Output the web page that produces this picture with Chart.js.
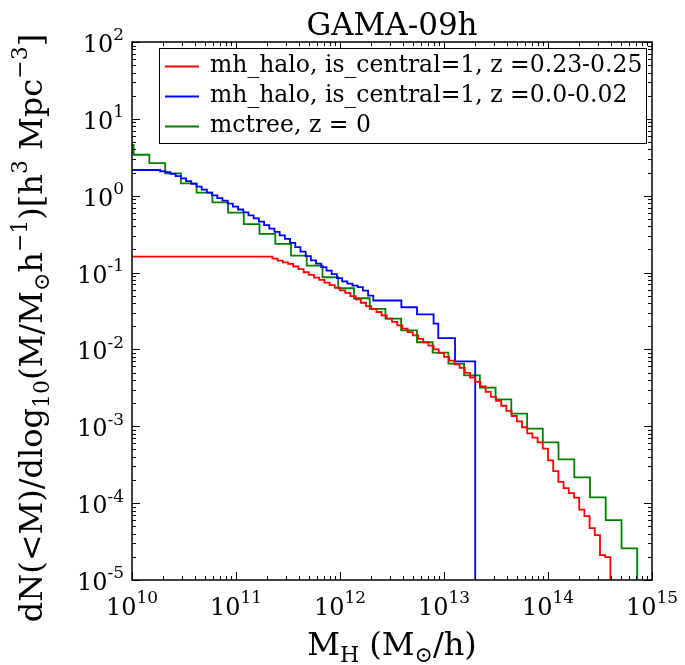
<!DOCTYPE html>
<html>
<head>
<meta charset="utf-8">
<script src="https://cdn.jsdelivr.net/npm/chart.js@4/dist/chart.umd.min.js"></script>
<style>
  html, body { margin: 0; padding: 0; background: #fff; }
</style>
</head>
<body>
<canvas id="mf-chart" width="685" height="665"></canvas>
<script>
const X_MIN = 1e10, X_MAX = 1e15;
const Y_MIN = 1e-5, Y_MAX = 1e2;
const FLOOR = 1e-7; // below the axis, so each curve drops off the bottom

const titleText = 'GAMA-09h';
const seriesLabels = [
    'mh_halo, is_central=1, z =0.23-0.25',
    'mh_halo, is_central=1, z =0.0-0.02',
    'mctree, z = 0'
];
const seriesColors = ['#ff0000', '#0000ff', '#008000'];

const xTickExp = [10, 11, 12, 13, 14, 15];
const yTickExp = [-5, -4, -3, -2, -1, 0, 1, 2];

// bin edges in log10(M), values per bin (one fewer than edges)
const redLogM = [9.9,
    11.35, 11.40, 11.45, 11.50, 11.55, 11.60, 11.65, 11.70, 11.75, 11.80,
    11.85, 11.90, 11.95, 12.00, 12.05, 12.10, 12.15, 12.20, 12.25, 12.30,
    12.35, 12.40, 12.45, 12.50, 12.55, 12.60, 12.65, 12.70, 12.75, 12.80,
    12.85, 12.90, 12.95, 13.00, 13.05, 13.10, 13.15, 13.20, 13.25, 13.30,
    13.35, 13.40, 13.45, 13.50, 13.55, 13.60, 13.65, 13.70, 13.75, 13.80,
    13.85, 13.90, 13.95, 14.00, 14.05, 14.10, 14.15, 14.20, 14.25, 14.30,
    14.35, 14.40, 14.45, 14.50, 14.55, 14.60];
const redVal = [0.161,
    0.152, 0.143, 0.136, 0.130, 0.120, 0.111, 0.101, 0.0933, 0.0861, 0.0802,
    0.0741, 0.0686, 0.0635, 0.0587, 0.0543, 0.0495, 0.0449, 0.0405, 0.0366, 0.0335,
    0.0307, 0.0278, 0.0251, 0.0228, 0.0206, 0.0186, 0.0168, 0.0152, 0.0137, 0.0124,
    0.0112, 0.0100, 0.00897, 0.00800, 0.00713, 0.00638, 0.00575, 0.00495, 0.00431, 0.00378,
    0.00330, 0.00281, 0.00242, 0.00214, 0.00185, 0.00159, 0.00136, 0.00116, 0.000971, 0.000811,
    0.000710, 0.000619, 0.000511, 0.000361, 0.000261, 0.000189, 0.000157, 0.000135, 0.000118, 8.24e-5,
    6.78e-5, 4.73e-5, 3.84e-5, 2.11e-5, 1.99e-5];

const blueLogM = [9.9,
    10.27, 10.32, 10.37, 10.42, 10.47, 10.52, 10.57, 10.62, 10.67, 10.72,
    10.77, 10.82, 10.87, 10.92, 10.97, 11.02, 11.07, 11.12, 11.17, 11.22,
    11.27, 11.32, 11.37, 11.42, 11.47, 11.52, 11.57, 11.62, 11.67, 11.72,
    11.77, 11.82, 11.87, 11.92, 11.97, 12.02, 12.07, 12.12, 12.17, 12.22,
    12.27, 12.32, 12.59, 12.74, 12.90, 12.945, 13.106, 13.30];
const blueVal = [2.16,
    2.08, 2.02, 1.92, 1.80, 1.68, 1.55, 1.43, 1.31, 1.20, 1.10,
    1.01, 0.933, 0.861, 0.787, 0.721, 0.662, 0.607, 0.556, 0.507, 0.459,
    0.415, 0.374, 0.338, 0.304, 0.274, 0.244, 0.214, 0.187, 0.164, 0.144,
    0.131, 0.118, 0.106, 0.0957, 0.0845, 0.0769, 0.0719, 0.0678, 0.0646, 0.0583, 0.0502,
    0.0433, 0.0354, 0.0285, 0.0216, 0.0140, 0.00698];

const greenLogM = [9.865, 10.016, 10.167, 10.319, 10.470, 10.621, 10.773, 10.924,
    11.075, 11.226, 11.378, 11.529, 11.680, 11.832, 11.983, 12.134, 12.286, 12.437,
    12.588, 12.740, 12.891, 13.042, 13.193, 13.345, 13.496, 13.647, 13.799, 13.950,
    14.101, 14.253, 14.404, 14.555, 14.707, 14.858];
const greenVal = [4.59, 3.41, 2.66, 1.95, 1.45, 1.10, 0.818, 0.601, 0.428, 0.318,
    0.236, 0.166, 0.123, 0.0869, 0.0625, 0.0463, 0.0338, 0.0251, 0.0177, 0.0124,
    0.00906, 0.00652, 0.00459, 0.00318, 0.00224, 0.00146, 0.000933, 0.000619, 0.000372, 0.000216,
    0.000119, 6.0e-5, 2.58e-5];

const FONT = "'DejaVu Serif', serif";

function stepPoints(logM, vals){
    const pts = vals.map((v, i) => ({x: Math.pow(10, logM[i]), y: v}));
    pts.push({x: Math.pow(10, logM[logM.length - 1]), y: FLOOR});
    return pts;
}

function makeDataset(i, logM, vals){
    return {
        label: seriesLabels[i],
        data: stepPoints(logM, vals),
        borderColor: seriesColors[i],
        backgroundColor: seriesColors[i],
        borderWidth: 1.8,
        stepped: 'before',
        fill: false,
        pointRadius: 0
    };
}

// parts: [text, kind]  kind 0 = normal, 1 = superscript, -1 = subscript
function drawRich(ctx, parts, x, y, size, align){
    ctx.textAlign = 'left';
    ctx.textBaseline = 'alphabetic';
    const fontOf = k => (k === 0 ? size : Math.round(size * 0.7)) + 'px ' + FONT;
    const widths = parts.map(p => { ctx.font = fontOf(p[1]); return ctx.measureText(p[0]).width; });
    const total = widths.reduce((a, b) => a + b, 0);
    let cx = align === 'center' ? x - total / 2 : (align === 'right' ? x - total : x);
    parts.forEach((p, i) => {
        ctx.font = fontOf(p[1]);
        let dy = 0;
        if (p[1] === 1) dy = -size * 0.48;
        if (p[1] === -1) dy = size * 0.22;
        ctx.fillText(p[0], cx, y + dy);
        cx += widths[i];
    });
}

const decorPlugin = {
    id: 'decor',
    beforeDraw(chart){
        const ctx = chart.ctx;
        ctx.save();
        ctx.fillStyle = '#fff';
        ctx.fillRect(0, 0, chart.width, chart.height);
        ctx.restore();
    },
    afterDraw(chart){
        const ctx = chart.ctx;
        const a = chart.chartArea;
        const xs = chart.scales.x, ys = chart.scales.y;
        ctx.save();
        ctx.strokeStyle = '#000';
        ctx.fillStyle = '#000';

        // ticks, inward on all four sides
        ctx.lineWidth = 1;
        ctx.beginPath();
        for (let e = 10; e <= 15; e++) {
            for (let m = 1; m <= 9; m++) {
                const v = m * Math.pow(10, e);
                if (v > X_MAX * 1.0001) break;
                const px = Math.round(xs.getPixelForValue(v)) + 0.5;
                const len = m === 1 ? 8 : 4;
                ctx.moveTo(px, a.bottom); ctx.lineTo(px, a.bottom - len);
                ctx.moveTo(px, a.top); ctx.lineTo(px, a.top + len);
            }
        }
        for (let e = -5; e <= 2; e++) {
            for (let m = 1; m <= 9; m++) {
                const v = m * Math.pow(10, e);
                if (v > Y_MAX * 1.0001) break;
                const py = Math.round(ys.getPixelForValue(v)) + 0.5;
                const len = m === 1 ? 8 : 4;
                ctx.moveTo(a.left, py); ctx.lineTo(a.left + len, py);
                ctx.moveTo(a.right, py); ctx.lineTo(a.right - len, py);
            }
        }
        ctx.stroke();

        // frame
        ctx.lineWidth = 1.5;
        ctx.strokeRect(a.left, a.top, a.right - a.left, a.bottom - a.top);

        // tick labels
        xTickExp.forEach(e => {
            const px = xs.getPixelForValue(Math.pow(10, e));
            drawRich(ctx, [['10', 0], [String(e), 1]], px, a.bottom + 35, 24, 'center');
        });
        yTickExp.forEach(e => {
            const py = ys.getPixelForValue(Math.pow(10, e));
            drawRich(ctx, [['10', 0], [String(e), 1]], a.left - 8, py + 10, 24, 'right');
        });

        // title and axis labels
        ctx.font = '31px ' + FONT;
        ctx.textAlign = 'center';
        ctx.textBaseline = 'alphabetic';
        ctx.fillText(titleText, (a.left + a.right) / 2, 35);

        drawRich(ctx, [['M', 0], ['H', -1], [' (M', 0], ['\u2299', -1], ['/h)', 0]],
            (a.left + a.right) / 2, 655, 32, 'center');

        ctx.save();
        ctx.translate(42, 328);
        ctx.rotate(-Math.PI / 2);
        drawRich(ctx, [['dN(<M)/dlog', 0], ['10', -1], ['(M/M', 0], ['\u2299', -1], ['h', 0],
            ['\u22121', 1], [')[h', 0], ['3', 1], [' Mpc', 0], ['\u22123', 1], [']', 0]],
            0, 0, 32, 'center');
        ctx.restore();

        // legend
        const lx = 159, ly = 48, lw = 487, lh = 95;
        ctx.fillStyle = '#fff';
        ctx.fillRect(lx, ly, lw, lh);
        ctx.lineWidth = 1;
        ctx.strokeStyle = '#000';
        ctx.strokeRect(lx + 0.5, ly + 0.5, lw, lh);
        chart.data.datasets.forEach((ds, i) => {
            const cy = 66 + 30 * i;
            ctx.strokeStyle = ds.borderColor;
            ctx.lineWidth = 1.8;
            ctx.beginPath();
            ctx.moveTo(165, cy + 0.5);
            ctx.lineTo(199, cy + 0.5);
            ctx.stroke();
            ctx.fillStyle = '#000';
            ctx.font = '23.5px ' + FONT;
            ctx.textAlign = 'left';
            ctx.textBaseline = 'middle';
            ctx.fillText(ds.label, 210, cy);
        });
        ctx.restore();
    }
};

function createChart(){
    const ctx = document.querySelector('#mf-chart').getContext('2d');
    return new Chart(ctx, {
        type: 'line',
        data: {
            datasets: [
                makeDataset(0, redLogM, redVal),
                makeDataset(1, blueLogM, blueVal),
                makeDataset(2, greenLogM, greenVal)
            ]
        },
        options: {
            responsive: false,
            animation: false,
            devicePixelRatio: 1,
            layout: { padding: { left: 132, right: 33, top: 42, bottom: 85 } },
            plugins: {
                legend: { display: false },
                tooltip: { enabled: false }
            },
            scales: {
                x: { type: 'logarithmic', min: X_MIN, max: X_MAX, display: false },
                y: { type: 'logarithmic', min: Y_MIN, max: Y_MAX, display: false }
            }
        },
        plugins: [decorPlugin]
    });
}

createChart();
</script>
</body>
</html>
